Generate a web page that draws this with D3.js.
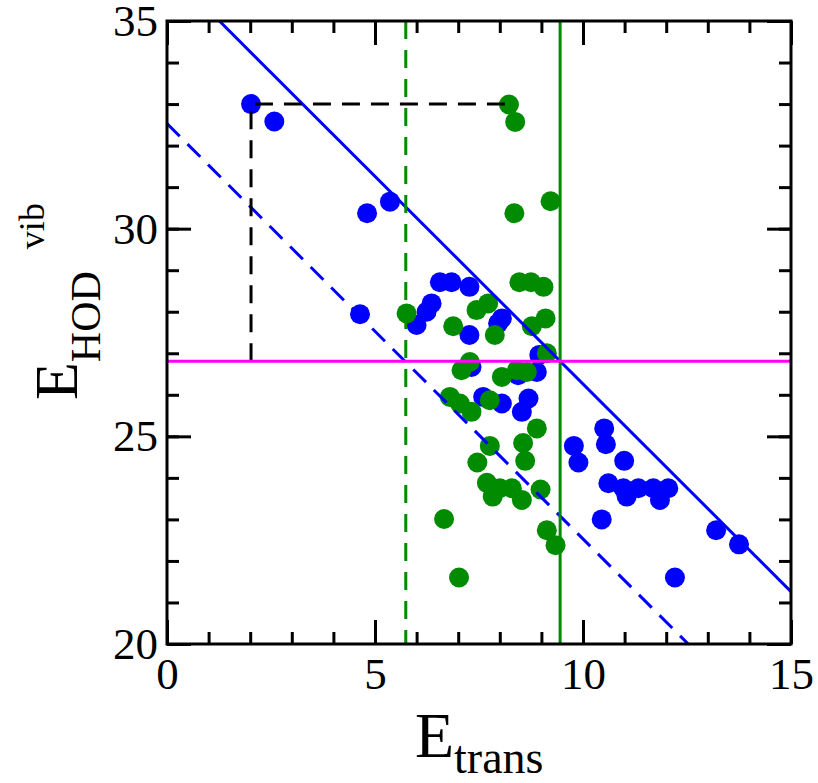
<!DOCTYPE html>
<html>
<head>
<meta charset="utf-8">
<script src="https://cdn.jsdelivr.net/npm/d3@7"></script>
<style>
  body { margin: 0; background: #fff; }
  svg text { font-family: "Liberation Serif", "DejaVu Serif", serif; }
</style>
</head>
<body>
<div id="chart"></div>
<script>
// blue points: [E_trans, E_HOD vib]
var blueX = [2.02, 2.58, 4.81, 5.36, 4.64, 6.56, 6.84, 7.27, 6.36, 6.24, 6.00, 7.27, 8.05, 7.96,
             7.32, 8.44, 8.89, 8.95, 7.60, 8.05, 8.69, 8.53, 9.78, 9.89, 10.51, 10.55, 10.99,
             10.61, 10.97, 11.05, 11.33, 11.69, 11.85, 12.05, 10.45, 13.20, 13.75, 12.21];
var blueY = [33.00, 32.58, 30.37, 30.65, 27.94, 28.71, 28.71, 28.60, 28.20, 28.00, 27.68, 27.44, 27.84, 27.72,
             26.67, 26.47, 26.55, 26.96, 25.95, 25.79, 25.91, 25.59, 24.77, 24.37, 25.19, 24.81, 24.41,
             23.87, 23.75, 23.55, 23.75, 23.75, 23.47, 23.75, 23.00, 22.74, 22.40, 21.60];

// green points
var greenX = [8.22, 8.37, 8.35, 9.22, 8.47, 8.75, 9.05, 5.76, 6.88, 7.44, 7.72, 7.88, 8.77, 9.10,
              9.13, 7.08, 7.28, 8.05, 8.41, 8.65, 6.80, 7.04, 7.32, 7.76, 8.89, 8.56, 8.61, 7.76,
              7.46, 7.69, 7.83, 8.00, 8.29, 8.53, 8.98, 6.66, 9.13, 9.34, 7.02];
var greenY = [32.99, 32.57, 30.37, 30.66, 28.71, 28.71, 28.60, 27.96, 27.65, 28.04, 28.20, 27.44, 27.65, 27.84,
              27.00, 26.59, 26.79, 26.43, 26.59, 26.55, 25.95, 25.79, 25.59, 25.87, 25.19, 24.84, 24.41, 24.77,
              24.37, 23.88, 23.55, 23.75, 23.75, 23.47, 23.72, 23.01, 22.74, 22.38, 21.60];

// reference lines
var hLineY = 26.81;           // magenta horizontal
var vSolidX = 9.45;           // green solid vertical
var vDashX = 5.74;            // green dashed vertical
var diagSolid = 36.26;        // blue solid: y = c - x
var diagDash = 32.53;         // blue dashed: y = c - x
var boxX = [2.02, 2.02, 8.22];  // black dashed path
var boxY = [26.81, 33.0, 33.0];

var xMajor = [0, 5, 10, 15];
var yMajor = [20, 25, 30, 35];

var margin = {top: 21, right: 27, bottom: 139, left: 167},
    width = 818 - margin.left - margin.right,
    height = 783 - margin.top - margin.bottom;

var x = d3.scaleLinear().domain([0, 15]).range([0, width]);
var y = d3.scaleLinear().domain([20, 35]).range([height, 0]);

var svg = d3.select("#chart").append("svg")
    .attr("width", 818)
    .attr("height", 783)
    .append("g")
    .attr("transform", "translate(" + margin.left + "," + margin.top + ")");

var blue = "#0000ff", green = "#008b00", magenta = "#ff00ff";

// points (blue first, green on top)
svg.selectAll(".blue").data(blueX).enter().append("circle")
    .attr("cx", function(d) { return x(d); })
    .attr("cy", function(d, i) { return y(blueY[i]); })
    .attr("r", 10)
    .style("fill", blue);

svg.selectAll(".green").data(greenX).enter().append("circle")
    .attr("cx", function(d) { return x(d); })
    .attr("cy", function(d, i) { return y(greenY[i]); })
    .attr("r", 10)
    .style("fill", green);

var line = d3.line()
    .x(function(d) { return x(d[0]); })
    .y(function(d) { return y(d[1]); });

svg.append("clipPath").attr("id", "clip")
  .append("rect").attr("width", width).attr("height", height);

var lines = svg.append("g").attr("clip-path", "url(#clip)");

// blue diagonals
lines.append("path")
    .attr("d", line([[diagSolid - 35, 35], [15, diagSolid - 15]]))
    .style("stroke", blue).style("stroke-width", 3).style("fill", "none");
lines.append("path")
    .attr("d", line([[0, diagDash], [diagDash - 20, 20]]))
    .style("stroke", blue).style("stroke-width", 3).style("fill", "none")
    .style("stroke-dasharray", "18,11");

// green verticals
lines.append("path")
    .attr("d", line([[vSolidX, 20], [vSolidX, 35]]))
    .style("stroke", green).style("stroke-width", 3).style("fill", "none");
lines.append("path")
    .attr("d", line([[vDashX, 35], [vDashX, 20]]))
    .style("stroke", green).style("stroke-width", 3).style("fill", "none")
    .style("stroke-dasharray", "18,11");

// black dashed box
lines.append("path")
    .attr("d", line(boxX.map(function(d, i) { return [d, boxY[i]]; })))
    .style("stroke", "#000").style("stroke-width", 3).style("fill", "none")
    .style("stroke-dasharray", "18,11");

// magenta horizontal
lines.append("path")
    .attr("d", line([[0, hLineY], [15, hLineY]]))
    .style("stroke", magenta).style("stroke-width", 3).style("fill", "none");

// axes: minor + major ticks, pointing inward, on all four sides
function styleAxis(g) {
  g.select(".domain").remove();
  g.selectAll("line").style("stroke", "#000").style("stroke-width", 3);
  g.selectAll("text").style("font-size", "45px").style("fill", "#000");
}

svg.append("g").attr("transform", "translate(0," + height + ")")
    .call(d3.axisBottom(x).ticks(15).tickSize(-12).tickFormat(""))
    .call(styleAxis);
svg.append("g").attr("transform", "translate(0," + height + ")")
    .call(d3.axisBottom(x).tickValues(xMajor).tickSize(-24).tickPadding(13).tickFormat(d3.format("d")))
    .call(styleAxis);
svg.append("g")
    .call(d3.axisTop(x).ticks(15).tickSize(-12).tickFormat(""))
    .call(styleAxis);
svg.append("g")
    .call(d3.axisTop(x).tickValues(xMajor).tickSize(-24).tickFormat(""))
    .call(styleAxis);

svg.append("g")
    .call(d3.axisLeft(y).ticks(15).tickSize(-12).tickFormat(""))
    .call(styleAxis);
svg.append("g")
    .call(d3.axisLeft(y).tickValues(yMajor).tickSize(-24).tickPadding(9).tickFormat(d3.format("d")))
    .call(styleAxis);
svg.append("g").attr("transform", "translate(" + width + ",0)")
    .call(d3.axisRight(y).ticks(15).tickSize(-12).tickFormat(""))
    .call(styleAxis);
svg.append("g").attr("transform", "translate(" + width + ",0)")
    .call(d3.axisRight(y).tickValues(yMajor).tickSize(-24).tickFormat(""))
    .call(styleAxis);

// frame
svg.append("rect")
    .attr("width", width).attr("height", height)
    .style("fill", "none").style("stroke", "#000").style("stroke-width", 3);

// axis titles
var xt = svg.append("text")
    .attr("x", 415 - margin.left)
    .attr("y", 757 - margin.top)
    .style("font-size", "64px");
xt.append("tspan").text("E");
xt.append("tspan").attr("dy", 16).style("font-size", "46px").text("trans");

var yt = svg.append("text")
    .attr("transform", "translate(" + (77 - margin.left) + "," + (400 - margin.top) + ") rotate(-90)")
    .style("font-size", "62px");
yt.append("tspan").text("E");
yt.append("tspan").attr("dy", 23).style("font-size", "42px").text("HOD");
yt.append("tspan").attr("dy", -56).attr("dx", 22).style("font-size", "36px").text("vib");
</script>
</body>
</html>
